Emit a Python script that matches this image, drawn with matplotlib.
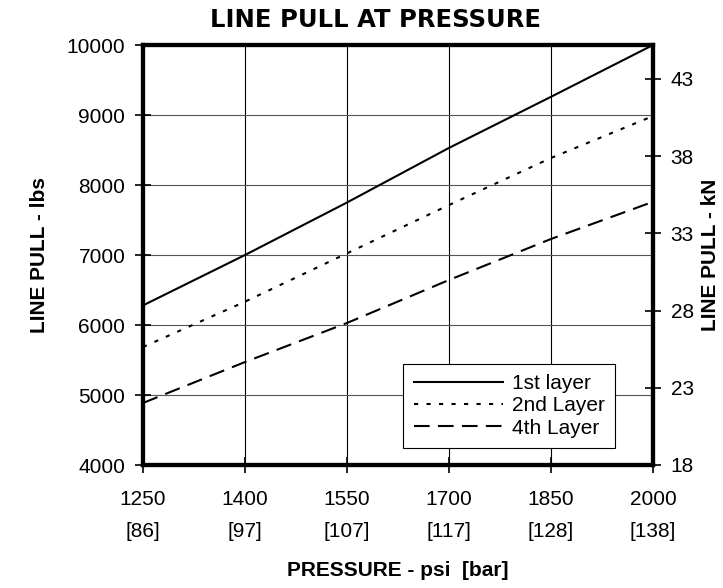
import matplotlib
matplotlib.use("Agg")
import matplotlib.pyplot as plt

# data
pressure_psi = [1250, 1400, 1550, 1700, 1850, 2000]
pressure_bar = ["[86]", "[97]", "[107]", "[117]", "[128]", "[138]"]
pull_1st = [6280, 7000, 7750, 8530, 9260, 10000]
pull_2nd = [5685, 6333, 7024, 7714, 8386, 8985]
pull_4th = [4886, 5471, 6029, 6643, 7229, 7760]
lbs_ticks = [4000, 5000, 6000, 7000, 8000, 9000, 10000]
kn_ticks = [18, 23, 28, 33, 38, 43]

plt.rcParams['font.family'] = ['Liberation Sans', 'DejaVu Sans']
FS = 15

fig = plt.figure(figsize=(7.23, 5.88), dpi=100)
ax = fig.add_axes([143 / 723, 123 / 588, 510 / 723, 420 / 588])

ax.plot(pressure_psi, pull_1st, color='black', lw=1.5, label='1st layer', zorder=3)
ax.plot(pressure_psi, pull_2nd, color='black', lw=1.5, linestyle=(0, (2, 4)),
        label='2nd Layer', zorder=3)
ax.plot(pressure_psi, pull_4th, color='black', lw=1.5, linestyle=(0, (7.5, 4)),
        label='4th Layer', zorder=3)

ax.set_xlim(1250, 2000)
ax.set_ylim(4000, 10000)
ax.set_xticks(pressure_psi)
ax.set_xticklabels([f"{p}\n{b}" for p, b in zip(pressure_psi, pressure_bar)])
for t in ax.get_xticklabels():
    t.set_linespacing(1.9)
ax.set_yticks(lbs_ticks)

ax.grid(axis='x', color='black', lw=0.8, zorder=1)
ax.grid(axis='y', color='#555555', lw=0.8, zorder=1)
ax.set_axisbelow(True)

for s in ax.spines.values():
    s.set_linewidth(3)
ax.tick_params(axis='both', direction='inout', length=11.5, width=1.2,
               labelsize=FS, pad=7)
ax.tick_params(axis='x', pad=12)

# secondary kN scale on the right
ax2 = ax.twinx()
ax2.set_ylim(18, 45.2)
ax2.set_yticks(kn_ticks)
ax2.tick_params(axis='y', direction='inout', length=11.5, width=1.2,
                labelsize=FS, pad=7)
for s in ax2.spines.values():
    s.set_linewidth(3)

ax.set_xlabel('PRESSURE - psi  [bar]', fontsize=FS, fontweight='bold', labelpad=14)
fig.text(40 / 723, 1 - 255 / 588, 'LINE PULL - lbs', rotation=90, fontsize=FS,
         fontweight='bold', ha='center', va='center')
fig.text(711 / 723, 1 - 255 / 588, 'LINE PULL - kN', rotation=90, fontsize=FS,
         fontweight='bold', ha='center', va='center')
fig.text(375 / 723, 1 - 20 / 588, 'LINE PULL AT PRESSURE', fontsize=17.5,
         fontweight='bold', family='DejaVu Sans', ha='center', va='center')

leg = ax.legend(loc='lower right', bbox_to_anchor=(615 / 723, 140 / 588),
                bbox_transform=fig.transFigure, fontsize=FS, frameon=True,
                fancybox=False, framealpha=1, edgecolor='black',
                handlelength=4.3, handletextpad=0.4, labelspacing=0.15,
                borderpad=0.5, borderaxespad=0)
leg.get_frame().set_linewidth(0.8)

fig.savefig('out.png', dpi=100)
